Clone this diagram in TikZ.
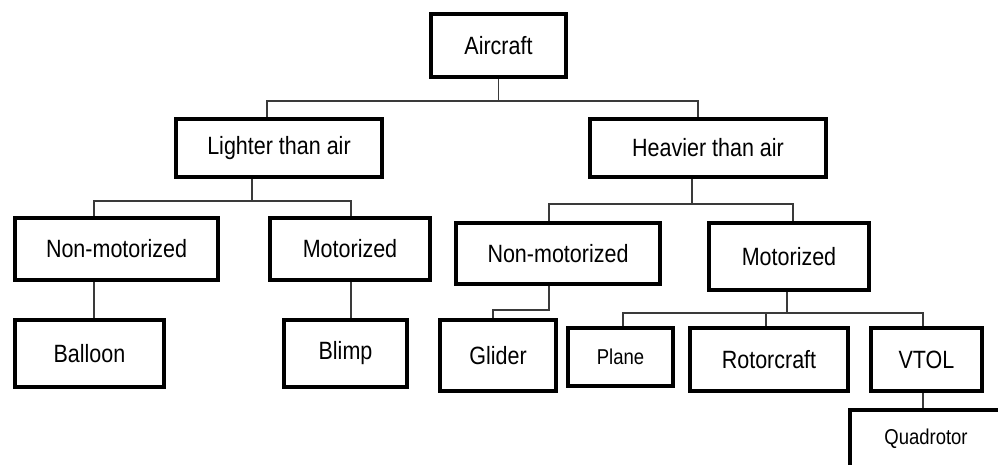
\documentclass[tikz,border=0pt]{standalone}
\usepackage{fontspec}
\setmainfont{Liberation Sans}[FakeStretch=0.86]
\usetikzlibrary{positioning}
\definecolor{linkGray}{HTML}{3A3A3A}

\begin{document}
\begin{tikzpicture}[
  x=1pt, y=-1pt,
  font=\fontsize{25}{30}\selectfont,
  box/.style={draw=black,line width=4pt,fill=white,inner sep=0pt},
  smalltext/.style={font=\fontsize{21.5}{26}\selectfont},
  link/.style={draw=linkGray,line width=1.3pt}
]
  \useasboundingbox (0,0) rectangle (998,464);

  % first two levels
  \node[box,minimum width=135pt,minimum height=63pt] (aircraft) at (498.5,45.5) {Aircraft};
  \node[box,minimum width=206pt,minimum height=58pt] (lighter) at (279,148) {Lighter than air};
  \node[box,minimum width=236pt,minimum height=58pt] (heavier) at (708,148) {Heavier than air};

  % third level
  \node[box,minimum width=203pt,minimum height=62pt] (lnonmot) at (116.5,249) {Non-motorized};
  \node[box,minimum width=160pt,minimum height=62pt] (lmot) at (350,249) {Motorized};
  \node[box,minimum width=204pt,minimum height=61pt] (hnonmot) at (558,253.5) {Non-motorized};
  \node[box,minimum width=160pt,minimum height=67pt] (hmot) at (789,256.5) {Motorized};

  % leaves
  \node[box,minimum width=149pt,minimum height=67pt] (balloon) at (89.5,353.5) {Balloon};
  \node[box,minimum width=123pt,minimum height=67pt] (blimp) at (345.5,353.5) {Blimp};
  \node[box,minimum width=116pt,minimum height=71pt] (glider) at (498,355.5) {Glider};
  \node[box,smalltext,minimum width=105pt,minimum height=58pt] (plane) at (620.5,357) {Plane};
  \node[box,minimum width=158pt,minimum height=63pt] (rotor) at (769,359.5) {Rotorcraft};
  \node[box,minimum width=111pt,minimum height=63pt] (vtol) at (926.5,359.5) {VTOL};
  \node[box,smalltext,minimum width=152pt,minimum height=58pt] (quad) at (926,439) {Quadrotor};

  % connectors
  \draw[link] (aircraft.south) -- ++(0,22) -| ([xshift=-12pt]lighter.north);
  \draw[link] (aircraft.south) -- ++(0,22) -| ([xshift=-10pt]heavier.north);
  \draw[link] ([xshift=-27pt]lighter.south) -- ++(0,22) -| ([xshift=-22.5pt]lnonmot.north);
  \draw[link] ([xshift=-27pt]lighter.south) -- ++(0,22) -| ([xshift=1pt]lmot.north);
  \draw[link] ([xshift=-16pt]heavier.south) -- ++(0,25) -| ([xshift=-9pt]hnonmot.north);
  \draw[link] ([xshift=-16pt]heavier.south) -- ++(0,25) -| ([xshift=4pt]hmot.north);
  \draw[link] ([xshift=-22.5pt]lnonmot.south) -- ([xshift=4.5pt]balloon.north);
  \draw[link] ([xshift=1pt]lmot.south) -- ([xshift=5.5pt]blimp.north);
  \draw[link] ([xshift=-9pt]hnonmot.south) -- ++(0,24) -| ([xshift=-5pt]glider.north);
  \draw[link] ([xshift=-2pt]hmot.south) -- ++(0,21) -| ([xshift=2.5pt]plane.north);
  \draw[link] ([xshift=-2pt]hmot.south) -- ++(0,21) -| ([xshift=-3pt]rotor.north);
  \draw[link] ([xshift=-2pt]hmot.south) -- ++(0,21) -| ([xshift=-3.5pt]vtol.north);
  \draw[link] ([xshift=-3.5pt]vtol.south) -- ([xshift=-3pt]quad.north);
\end{tikzpicture}
\end{document}
